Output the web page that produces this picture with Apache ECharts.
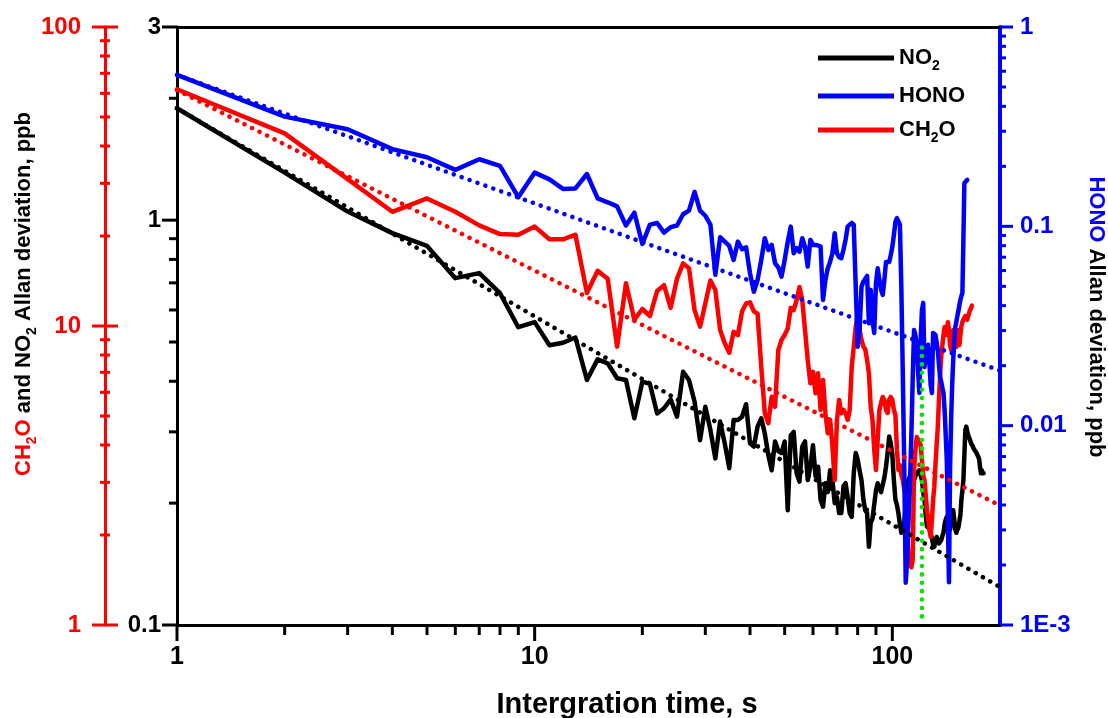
<!DOCTYPE html>
<html>
<head>
<meta charset="utf-8">
<title>Allan deviation</title>
<script src="https://cdn.jsdelivr.net/npm/echarts@6/dist/echarts.min.js"></script>
<style>
  html, body { margin: 0; padding: 0; background: #fff; }
  #main { width: 1108px; height: 718px; }
</style>
</head>
<body>
<div id="main"></div>
<script>
// Allan deviation vs integration time, tau = 1, 2, 3 ... s
var no2 = [1.89, 1.31, 1.05, 0.929, 0.864, 0.719, 0.740, 0.660, 0.544, 0.560,
  0.491, 0.498, 0.513, 0.403, 0.453, 0.443, 0.407, 0.403, 0.324, 0.399,
  0.394, 0.333, 0.343, 0.361, 0.327, 0.422, 0.403, 0.356, 0.286, 0.346,
  0.303, 0.258, 0.318, 0.281, 0.244, 0.321, 0.321, 0.327, 0.351, 0.281,
  0.276, 0.309, 0.324, 0.297, 0.263, 0.241, 0.284, 0.269, 0.266, 0.284,
  0.192, 0.294, 0.300, 0.237, 0.226, 0.276, 0.284, 0.228, 0.246, 0.278,
  0.233, 0.246, 0.204, 0.196, 0.224, 0.213, 0.241, 0.228, 0.200, 0.207,
  0.189, 0.189, 0.220, 0.224, 0.207, 0.189, 0.185, 0.237, 0.266, 0.256,
  0.241, 0.228, 0.204, 0.192, 0.189, 0.156, 0.179, 0.183, 0.182, 0.215,
  0.224, 0.218, 0.213, 0.212, 0.231, 0.246, 0.266, 0.292, 0.281, 0.263,
  0.228, 0.204, 0.198, 0.189, 0.177, 0.169, 0.174, 0.179, 0.198, 0.222,
  0.228, 0.233, 0.237, 0.231, 0.228, 0.233, 0.237, 0.239, 0.241, 0.241,
  0.228, 0.213, 0.204, 0.187, 0.175, 0.174, 0.173, 0.172, 0.164, 0.158,
  0.156, 0.162, 0.165, 0.162, 0.159, 0.159, 0.162, 0.166, 0.169, 0.177,
  0.182, 0.185, 0.180, 0.175, 0.172, 0.180, 0.187, 0.192, 0.182, 0.172,
  0.169, 0.172, 0.174, 0.175, 0.187, 0.204, 0.215, 0.228, 0.263, 0.303,
  0.309, 0.300, 0.294, 0.292, 0.286, 0.281, 0.278, 0.276, 0.272, 0.269,
  0.269, 0.266, 0.263, 0.260, 0.256, 0.244, 0.237, 0.241, 0.237, 0.237];

var ch2o = [61.9, 44.1, 31.0, 24.1, 26.7, 24.1, 21.7, 20.3, 20.2, 21.5,
  19.5, 19.5, 20.2, 12.9, 15.3, 14.4, 8.53, 13.9, 10.5, 11.4,
  10.8, 13.1, 13.7, 11.5, 14.4, 16.2, 15.6, 11.3, 9.95, 11.9,
  14.2, 13.2, 9.70, 8.75, 8.14, 9.57, 9.33, 11.2, 11.9, 12.0,
  11.2, 11.0, 7.31, 5.11, 4.73, 5.80, 5.37, 8.31, 8.98, 9.33,
  9.82, 11.5, 11.3, 12.2, 13.5, 12.2, 9.70, 7.70, 6.43, 7.03,
  5.96, 6.95, 5.24, 6.60, 5.11, 4.38, 4.85, 3.95, 3.05, 4.85,
  5.66, 5.11, 5.24, 5.11, 4.85, 5.24, 7.31, 8.53, 9.95, 10.7,
  9.70, 8.98, 8.53, 8.36, 7.70, 6.95, 5.37, 4.85, 3.85, 3.30,
  4.16, 5.24, 5.53, 5.79, 5.66, 5.24, 5.12, 5.66, 5.79, 5.66,
  5.24, 5.04, 3.85, 3.30, 3.43, 3.17, 3.05, 2.83, 2.72, 2.08,
  1.65, 1.59, 1.56, 1.65, 3.30, 3.85, 4.25, 4.25, 4.09, 4.00,
  3.56, 3.17, 3.05, 2.72, 2.42, 2.24, 2.08, 1.97, 2.24, 2.62,
  2.89, 3.43, 4.00, 4.59, 5.66, 6.86, 7.88, 8.64, 9.33, 9.92,
  9.92, 9.33, 10.3, 9.70, 8.64, 8.31, 8.98, 9.70, 9.85, 8.84,
  8.51, 9.33, 9.70, 8.64, 9.33, 10.0, 10.3, 10.5, 10.6, 10.8,
  10.7, 10.5, 10.8, 11.1, 11.2, 11.5, 11.7];

var hono = [0.575, 0.355, 0.307, 0.244, 0.222, 0.192, 0.217, 0.201, 0.140, 0.186,
  0.172, 0.154, 0.155, 0.183, 0.138, 0.132, 0.126, 0.101, 0.117, 0.0816,
  0.102, 0.104, 0.0930, 0.0990, 0.101, 0.115, 0.120, 0.149, 0.120, 0.113,
  0.102, 0.0571, 0.0882, 0.0838, 0.0797, 0.0678, 0.0838, 0.0767, 0.0785, 0.0582,
  0.0470, 0.0538, 0.0678, 0.0872, 0.0761, 0.0807, 0.0653, 0.0623, 0.0559, 0.0678,
  0.0838, 0.0997, 0.0733, 0.0777, 0.0746, 0.0872, 0.0791, 0.0628, 0.0855, 0.0807,
  0.0807, 0.0801, 0.0791, 0.0427, 0.0538, 0.0616, 0.0665, 0.0733, 0.0923, 0.0733,
  0.0700, 0.0692, 0.0761, 0.0855, 0.0997, 0.102, 0.104, 0.102, 0.0997, 0.0249,
  0.0302, 0.0498, 0.0528, 0.0538, 0.0564, 0.0326, 0.0480, 0.0339, 0.0292, 0.0518,
  0.0616, 0.0538, 0.0480, 0.0453, 0.0538, 0.0663, 0.0678, 0.0663, 0.0719, 0.0788,
  0.0906, 0.105, 0.110, 0.109, 0.102, 0.0480, 0.0176, 0.0060, 0.00163, 0.00212,
  0.00336, 0.00504, 0.00878, 0.0170, 0.0302, 0.0285, 0.0254, 0.0190, 0.0146, 0.0269,
  0.0381, 0.0413, 0.0197, 0.0226, 0.0240, 0.0248, 0.0202, 0.0160, 0.0146, 0.0292,
  0.0292, 0.0285, 0.0288, 0.0240, 0.0202, 0.0176, 0.0166, 0.0155, 0.0146, 0.0120,
  0.0090, 0.0067, 0.00336, 0.00164, 0.0060, 0.0107, 0.0160, 0.0214, 0.0269, 0.0313,
  0.0331, 0.0355, 0.0376, 0.0403, 0.0427, 0.0447, 0.0463, 0.0855, 0.165, 0.165,
  0.167, 0.171];

// dotted white-noise reference lines (tau, value)
var no2Fit = [[1, 1.89], [200, 0.124]];
var ch2oFit = [[1, 61.5], [200, 2.51]];
var honoFit = [[1, 0.575], [200, 0.0189]];
var markerLine = [[121, 0.105], [121, 0.506]];

// axis ticks
var xMajor = [1, 10, 100];
var xMinor = [2, 3, 4, 5, 6, 7, 8, 9, 20, 30, 40, 50, 60, 70, 80, 90];
var no2Major = [0.1, 1, 3];
var no2Minor = [0.2, 0.3, 0.4, 0.5, 0.6, 0.7, 0.8, 0.9, 2];
var ch2oMajor = [1, 10, 100];
var ch2oMinor = [2, 3, 4, 5, 6, 7, 8, 9, 20, 30, 40, 50, 60, 70, 80, 90];
var honoMajor = [0.001, 0.01, 0.1, 1];
var honoMinor = [0.002, 0.003, 0.004, 0.005, 0.006, 0.007, 0.008, 0.009,
  0.02, 0.03, 0.04, 0.05, 0.06, 0.07, 0.08, 0.09,
  0.2, 0.3, 0.4, 0.5, 0.6, 0.7, 0.8, 0.9];

var FONT = '"Liberation Sans", Arial, Helvetica, sans-serif';
var RED = '#ff0000', BLUE = '#0000ff', BLACK = '#000000', GREEN = '#00e600';
var RED_OFFSET = 72;

function pairs(arr) {
  return arr.map(function (v, i) { return [i + 1, v]; });
}

function isDecade(v) {
  var l = Math.log10(v);
  return Math.abs(l - Math.round(l)) < 1e-6;
}

function fmt(v) {
  return String(Number(v.toPrecision(3)));
}

// tick marks drawn through the axes' own scales
function ticks(yIndex, values, dir, at, a, b, color, dx) {
  return {
    type: 'custom',
    silent: true,
    clip: false,
    z: 10,
    xAxisIndex: 0,
    yAxisIndex: yIndex,
    data: values.map(function (v) { return dir === 'x' ? [v, at] : [at, v]; }),
    renderItem: function (params, api) {
      var p = api.coord([api.value(0), api.value(1)]);
      var x = p[0] + (dx || 0), y = p[1];
      var shape = dir === 'x'
        ? { x1: x, y1: y - a, x2: x, y2: y + b }
        : { x1: x - a, y1: y, x2: x + b, y2: y };
      return { type: 'line', shape: shape, style: { stroke: color, lineWidth: 3 } };
    }
  };
}

function dataLine(name, data, yIndex, color) {
  return {
    name: name, type: 'line', xAxisIndex: 0, yAxisIndex: yIndex,
    data: pairs(data), symbol: 'none', silent: true,
    lineStyle: { color: color, width: 4.5, join: 'round', cap: 'round' },
    itemStyle: { color: color }
  };
}

function dotLine(data, yIndex, color) {
  return {
    type: 'line', xAxisIndex: 0, yAxisIndex: yIndex,
    data: data, symbol: 'none', silent: true, z: 3,
    lineStyle: { color: color, width: 4.5, type: [0.1, 8.3], cap: 'round' }
  };
}

function yAx(min, max, pos, offset, color, width, margin, formatter) {
  return {
    type: 'log', logBase: 10, min: min, max: max, position: pos, offset: offset,
    axisLine: { show: true, onZero: false, lineStyle: { color: color, width: width } },
    axisTick: { show: false },
    minorTick: { show: false },
    splitLine: { show: false },
    axisLabel: {
      color: color, fontSize: 24, fontWeight: 'bold', fontFamily: FONT,
      margin: margin, formatter: formatter
    }
  };
}

var legendText = {
  'NO2': '{b|NO}{s|2}',
  'HONO': '{b|HONO}',
  'CH2O': '{b|CH}{s|2}{b|O}'
};

function richSet(prefix, color) {
  var r = {};
  r[prefix] = { fill: color, color: color, fontSize: 22, fontWeight: 'bold', fontFamily: FONT, lineHeight: 30 };
  r[prefix + 's'] = { fill: color, color: color, fontSize: 14, fontWeight: 'bold', fontFamily: FONT, lineHeight: 14, verticalAlign: 'bottom' };
  return r;
}

var leftRich = Object.assign({}, richSet('r', RED), richSet('k', BLACK));
var rightRich = Object.assign({}, richSet('u', BLUE), richSet('k', BLACK));

var chart = echarts.init(document.getElementById('main'), null, { renderer: 'canvas' });

var option = {
  animation: false,
  backgroundColor: '#ffffff',
  grid: { left: 177, right: 108, top: 27, bottom: 93, containLabel: false, outerBoundsMode: 'none' },
  xAxis: [{
    type: 'log', logBase: 10, min: 1, max: 200, position: 'bottom',
    axisLine: { show: true, onZero: false, lineStyle: { color: BLACK, width: 3 } },
    axisTick: { show: false },
    splitLine: { show: false },
    axisLabel: {
      color: BLACK, fontSize: 25, fontWeight: 'bold', fontFamily: FONT, margin: 20,
      formatter: function (v) { return isDecade(v) ? fmt(v) : ''; }
    }
  }, {
    type: 'log', logBase: 10, min: 1, max: 200, position: 'top',
    axisLine: { show: true, onZero: false, lineStyle: { color: BLACK, width: 3 } },
    axisTick: { show: false }, axisLabel: { show: false }, splitLine: { show: false }
  }],
  yAxis: [
    yAx(0.1, 3, 'left', 0, BLACK, 3, 16, function (v) { return fmt(v); }),
    yAx(1, 100, 'left', RED_OFFSET, RED, 3, 24, function (v) { return fmt(v); }),
    yAx(0.001, 1, 'right', 0, BLUE, 4, 20, function (v) {
      return v < 0.002 ? '1E-3' : fmt(v);
    })
  ],
  legend: {
    data: ['NO2', 'HONO', 'CH2O'],
    orient: 'vertical', left: 813, top: 42,
    icon: 'rect', itemWidth: 76, itemHeight: 5, itemGap: 12, selectedMode: false,
    formatter: function (n) { return legendText[n]; },
    textStyle: {
      color: BLACK, fontSize: 22, fontWeight: 'bold', fontFamily: FONT,
      rich: {
        b: { color: BLACK, fontSize: 22, fontWeight: 'bold', fontFamily: FONT, lineHeight: 30 },
        s: { color: BLACK, fontSize: 14, fontWeight: 'bold', fontFamily: FONT, lineHeight: 14, verticalAlign: 'bottom' }
      }
    }
  },
  graphic: [{
    type: 'text', x: 627, y: 705, silent: true,
    style: {
      text: 'Intergration time, s', fill: BLACK, align: 'center', verticalAlign: 'middle',
      fontSize: 29, fontWeight: 'bold', fontFamily: FONT
    }
  }, {
    type: 'text', x: 24, y: 294, rotation: Math.PI / 2, silent: true,
    style: {
      text: '{r|CH}{rs|2}{r|O}{k| and NO}{ks|2}{k| Allan deviation, ppb}',
      rich: leftRich, align: 'center', verticalAlign: 'middle',
      fontSize: 22, fontWeight: 'bold', fontFamily: FONT
    }
  }, {
    type: 'text', x: 1096, y: 317, rotation: -Math.PI / 2, silent: true,
    style: {
      text: '{u|HONO}{k| Allan deviation, ppb}',
      rich: rightRich, align: 'center', verticalAlign: 'middle',
      fontSize: 22, fontWeight: 'bold', fontFamily: FONT
    }
  }],
  series: [
    dataLine('NO2', no2, 0, BLACK),
    dataLine('CH2O', ch2o, 1, RED),
    dataLine('HONO', hono, 2, BLUE),
    dotLine(no2Fit, 0, BLACK),
    dotLine(ch2oFit, 1, RED),
    dotLine(honoFit, 2, BLUE),
    dotLine(markerLine, 0, GREEN),
    ticks(0, xMajor, 'x', 0.1, 0, 16, BLACK),
    ticks(0, xMinor, 'x', 0.1, 0, 10, BLACK),
    ticks(0, no2Major, 'y', 1, 15, 0, BLACK),
    ticks(0, no2Minor, 'y', 1, 8, 0, BLACK),
    ticks(1, ch2oMajor, 'y', 1, 13, 13, RED, -RED_OFFSET),
    ticks(1, ch2oMinor, 'y', 1, 5, 5, RED, -RED_OFFSET),
    ticks(2, honoMajor, 'y', 200, 0, 13, BLUE),
    ticks(2, honoMinor, 'y', 200, 0, 6, BLUE)
  ]
};

chart.setOption(option);
</script>
</body>
</html>
